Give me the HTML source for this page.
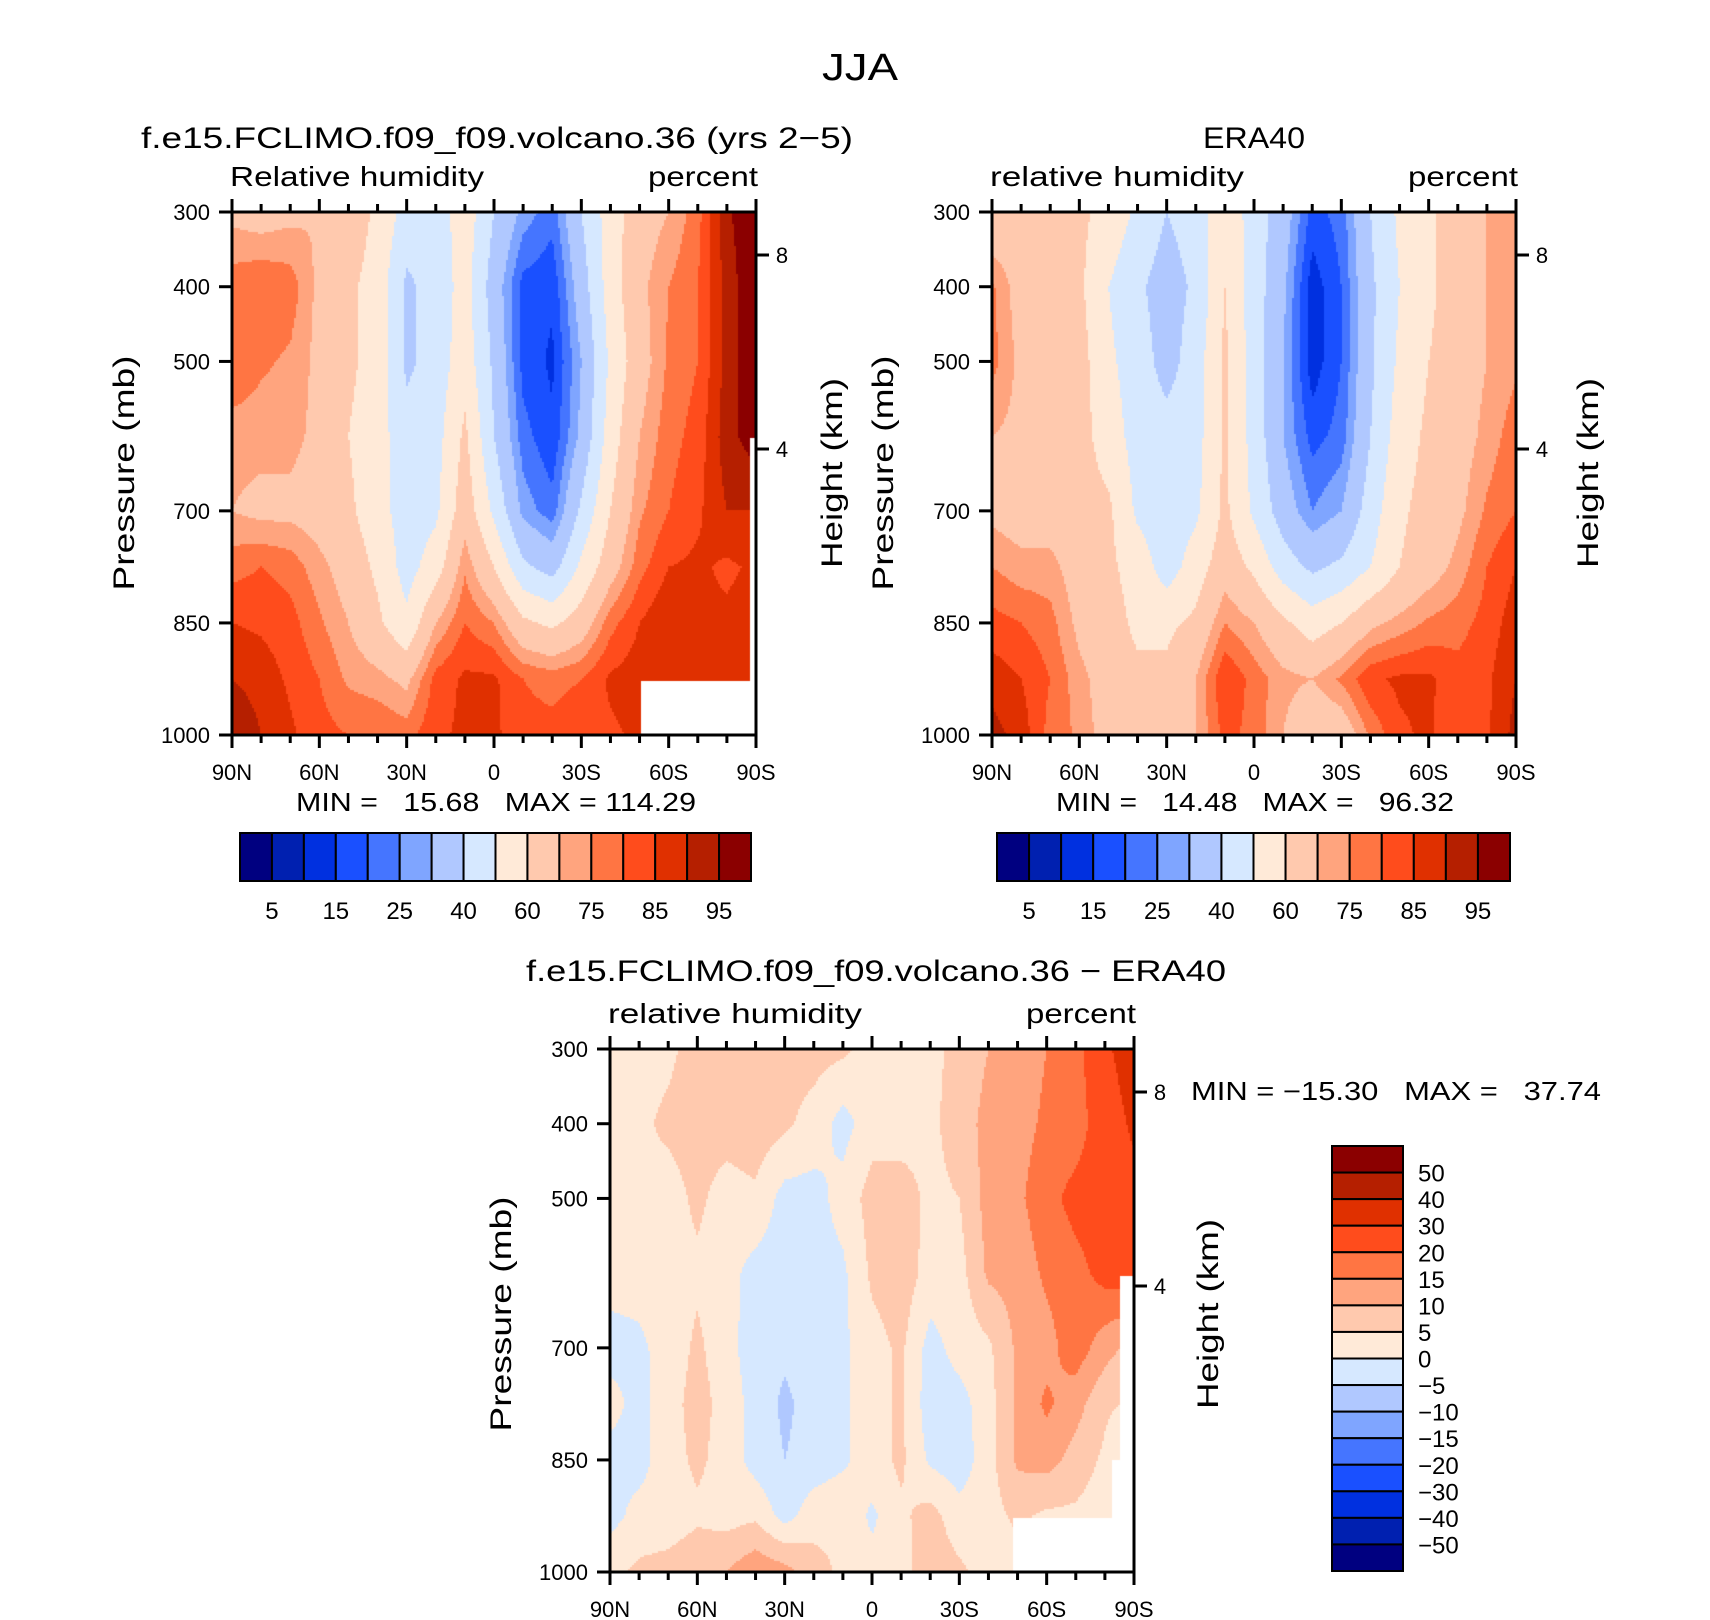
<!DOCTYPE html>
<html><head><meta charset="utf-8"><style>
html,body{margin:0;padding:0;background:#fff;}
#root{position:relative;width:1710px;height:1620px;overflow:hidden;font-family:"Liberation Sans",sans-serif;}
canvas{position:absolute;}
svg{position:absolute;left:0;top:0;}
text{white-space:pre;}
</style></head><body>
<div id="root">
<canvas id="c1"></canvas>
<canvas id="c2"></canvas>
<canvas id="c3"></canvas>
<svg id="ov" width="1710" height="1620"></svg>
</div>
<script>
// ---------- data ----------
const latLabels = ["90N","60N","30N","0","30S","60S","90S"];
const pressureTicks = [300,400,500,700,850,1000];
const gridPressures = [300,400,500,600,700,775,850,925,1000];
const absLevels = [5,10,15,20,25,30,40,50,60,70,75,80,85,90,95];
const absLabels = ["5","15","25","40","60","75","85","95"];
const diffLevels = [-50,-40,-30,-20,-15,-10,-5,0,5,10,15,20,30,40,50];
const diffLabels = ["50","40","30","20","15","10","5","0","\u22125","\u221210","\u221215","\u221220","\u221230","\u221240","\u221250"];
const palette = ["#000080","#0020b0","#0030e0","#1a50ff","#4575ff","#7fa5ff","#b0c8ff","#d6e8ff","#ffead8","#ffc9ae","#ffa47e","#ff7543","#ff4c1c","#e03000","#b51f00","#8b0000"];
// rows = pressure levels, columns = 90N..90S every 10 deg
const modelRH = [
[68,66,68,70,66,58,46,44,56,40,28,22,40,55,66,70,78,94,100],
[78,80,78,68,62,56,38,44,54,35,18,16,35,55,68,75,80,92,100],
[80,76,74,68,62,56,38,44,56,38,18,14,30,52,66,76,80,92,100],
[72,72,72,68,60,54,44,46,62,40,22,16,32,55,70,78,82,93,98],
[70,68,68,66,62,54,45,48,66,48,28,22,42,60,74,80,84,90,90],
[78,80,78,72,66,58,46,55,74,60,42,36,52,66,78,85,86,84,86],
[85,84,82,76,70,62,52,70,80,75,62,58,65,78,85,90,86,86,88],
[90,88,84,80,74,72,68,82,86,86,80,78,80,86,88,88,88,88,88],
[95,90,86,82,80,80,78,84,86,86,82,82,84,84,86,86,86,86,86]];
const eraRH = [
[62,65,65,62,57,48,40,45,58,45,35,18,22,40,52,58,65,70,72],
[76,66,68,62,50,42,35,42,60,45,32,12,20,38,50,58,65,70,72],
[77,68,66,64,52,45,36,45,62,45,30,12,20,38,52,60,65,70,74],
[70,68,66,64,55,46,44,46,62,46,30,18,22,40,55,62,66,72,78],
[68,66,66,64,62,48,44,48,62,48,35,25,30,45,58,64,68,76,80],
[75,72,72,66,62,56,45,55,66,58,45,38,42,50,60,66,72,80,85],
[82,80,77,68,64,58,58,62,75,70,62,55,60,68,72,76,78,82,88],
[88,85,80,72,66,62,62,70,85,78,72,70,76,84,86,86,82,84,90],
[92,88,78,74,66,66,62,70,82,78,70,62,64,76,84,86,80,84,92]];
const diffRH = [
[3,3,4,7,8,7,7,7,6,3,4,4,6,10,12,15,17,28,36],
[2,4,6,7,7,8,6,3,-2,3,3,4,7,12,13,16,17,24,32],
[3,4,3,6,3,4,-2,-2,2,7,7,4,5,12,14,18,22,24,26],
[2,2,3,4,2,-2,-3,-2,-1,6,8,3,3,11,12,16,18,22,23],
[-2,-1,2,6,2,-3,-4,-2,-1,3,6,-2,2,4,11,13,18,12,8],
[2,-2,3,7,3,-2,-6,-3,-1,3,6,-3,-2,3,11,16,12,6,4],
[-2,-2,3,6,3,-2,-5,-3,-1,3,6,-1,-3,3,11,12,8,4,-3],
[-2,2,2,4,3,4,-2,3,4,-1,4,7,2,3,6,4,4,2,-2],
[4,6,7,9,10,14,12,7,4,2,3,8,6,3,3,3,2,-1,-2]];

// ---------- helpers ----------
const NS="http://www.w3.org/2000/svg";
const ov=document.getElementById('ov');
function el(tag,attrs,parent){const e=document.createElementNS(NS,tag);for(const k in attrs)e.setAttribute(k,attrs[k]);(parent||ov).appendChild(e);return e;}
function txt(s,x,y,size,anchor,extra){const t=el('text',Object.assign({x:x,y:y,'font-size':size,'text-anchor':anchor||'start','font-family':'"Liberation Sans",sans-serif',fill:'#000'},extra||{}));t.textContent=s;return t;}
function colorFor(v,levels){let i=0;while(i<levels.length&&v>=levels[i])i++;return palette[i];}
function sample(grid,fx,p){
  const nc=grid[0].length;const cx=fx*(nc-1);const c0=Math.min(nc-2,Math.floor(cx));const tx=cx-c0;
  let r0=0;while(r0<gridPressures.length-2&&p>gridPressures[r0+1])r0++;
  const ty=(p-gridPressures[r0])/(gridPressures[r0+1]-gridPressures[r0]);
  const a=grid[r0][c0]*(1-tx)+grid[r0][c0+1]*tx;const b=grid[r0+1][c0]*(1-tx)+grid[r0+1][c0+1]*tx;
  return a*(1-ty)+b*ty;}
function drawField(id,grid,levels,P,masks){
  const cv=document.getElementById(id);const w=P.x1-P.x0,h=P.y1-P.y0;
  cv.width=w;cv.height=h;cv.style.left=P.x0+'px';cv.style.top=P.y0+'px';
  const ctx=cv.getContext('2d');const s=2;
  for(let y=0;y<h;y+=s){const p=300+700*(y+s/2)/h;
    for(let x=0;x<w;x+=s){ctx.fillStyle=colorFor(sample(grid,(x+s/2)/w,p),levels);ctx.fillRect(x,y,s,s);}}
  ctx.fillStyle='#fff';
  masks.forEach(m=>ctx.fillRect(m[0]-P.x0,m[1]-P.y0,m[2]-m[0],m[3]-m[1]));
}
function axes(P,name,leftTitle,rightTitle,hk){
  const g=el('g',{});
  
  
  const w=P.x1-P.x0,h=P.y1-P.y0;
  el('rect',{x:P.x0,y:P.y0,width:w,height:h,fill:'none',stroke:'#000','stroke-width':3},g);
  for(let d=0;d<=180;d+=10){const x=P.x0+w*d/180;const L=(d%30===0)?13:8;
    el('line',{x1:x,y1:P.y0,x2:x,y2:P.y0-L,stroke:'#000','stroke-width':3},g);
    el('line',{x1:x,y1:P.y1,x2:x,y2:P.y1+L,stroke:'#000','stroke-width':3},g);}
  latLabels.forEach((l,i)=>{const t=txt(l,P.x0+w*i/6,P.y1+45,22,'middle');g.appendChild(t);
    });
  pressureTicks.forEach(p=>{const y=P.y0+h*(p-300)/700;
    el('line',{x1:P.x0,y1:y,x2:P.x0-13,y2:y,stroke:'#000','stroke-width':3},g);
    const t=txt(String(p),P.x0-22,y+8,22,'end');g.appendChild(t);
    });
  hk.forEach(k=>{el('line',{x1:P.x1,y1:k[1],x2:P.x1+13,y2:k[1],stroke:'#000','stroke-width':3},g);
    txt(k[0],P.x1+26,k[1]+8,22,'middle');});
  const a=txt(leftTitle,P.x0-2,P.y0-26,28,'start',{textLength:254,lengthAdjust:'spacingAndGlyphs'});
  const b=txt(rightTitle,P.x1+2,P.y0-26,28,'end',{textLength:110,lengthAdjust:'spacingAndGlyphs'});
}
function rot(s,x,y,name,len){const t=txt(s,x,y,30,'middle',{transform:'rotate(-90 '+x+' '+y+')',textLength:len,lengthAdjust:'spacingAndGlyphs'});return t;}

// ---------- panels ----------
const P1={x0:232,x1:756,y0:212,y1:735};
const P2={x0:992,x1:1516,y0:212,y1:735};
const P3={x0:610,x1:1134,y0:1049,y1:1572};
drawField('c1',modelRH,absLevels,P1,[[641,681,756,735],[750,438,756,735]]);
drawField('c2',eraRH,absLevels,P2,[]);
drawField('c3',diffRH,diffLevels,P3,[[1013,1518,1134,1572],[1120,1276,1134,1572],[1112,1460,1134,1572]]);

axes(P1,'model',"Relative humidity","percent",[["8",255],["4",449]]);
axes(P2,'era40',"relative humidity","percent",[["8",255],["4",449]]);
axes(P3,'difference',"relative humidity","percent",[["8",1092],["4",1286]]);

let t;
t=txt("JJA",860,80,38,'middle',{textLength:76,lengthAdjust:'spacingAndGlyphs'});
t=txt("f.e15.FCLIMO.f09_f09.volcano.36 (yrs 2\u22125)",497,148,30,'middle',{textLength:712,lengthAdjust:'spacingAndGlyphs'});

t=txt("ERA40",1254,148,30,'middle',{textLength:102,lengthAdjust:'spacingAndGlyphs'});

t=txt("f.e15.FCLIMO.f09_f09.volcano.36 \u2212 ERA40",876,981,30,'middle',{textLength:700,lengthAdjust:'spacingAndGlyphs'});


rot("Pressure (mb)",134,473,'y-axis-title',235);
rot("Height (km)",842,473,'right-axis-title',190);
rot("Pressure (mb)",893,473,'y-axis-title',235);
rot("Height (km)",1598,473,'right-axis-title',190);
rot("Pressure (mb)",511,1314,'y-axis-title',235);
rot("Height (km)",1218,1314,'right-axis-title',190);

t=txt("MIN =   15.68   MAX = 114.29",496,811,26,'middle',{textLength:400,lengthAdjust:'spacingAndGlyphs'});
t=txt("MIN =   14.48   MAX =   96.32",1255,811,26,'middle',{textLength:398,lengthAdjust:'spacingAndGlyphs'});
t=txt("MIN = \u221215.30   MAX =   37.74",1191,1100,26,'start',{textLength:410,lengthAdjust:'spacingAndGlyphs'});

// ---------- colorbars ----------
function hbar(x0,x1,y0,y1,name){
  const g=el('g',{});
  
  
  const bw=(x1-x0)/palette.length;
  palette.forEach((c,i)=>{const r=el('rect',{x:x0+i*bw,y:y0,width:bw,height:y1-y0,fill:c,stroke:'#000','stroke-width':2},g);
    });
  absLabels.forEach((l,i)=>{const tt=txt(l,x0+(2*i+1)*bw,y1+38,24,'middle');g.appendChild(tt);
    });
}
hbar(240,751,833,881,'model-colorbar');
hbar(997,1510,833,881,'era40-colorbar');
(function(){const x0=1332,x1=1403,y0=1146,y1=1571;const g=el('g',{});
  
  
  const bh=(y1-y0)/palette.length;
  palette.slice().reverse().forEach((c,i)=>{const r=el('rect',{x:x0,y:y0+i*bh,width:x1-x0,height:bh,fill:c,stroke:'#000','stroke-width':2},g);
    });
  diffLabels.forEach((l,i)=>{const tt=txt(l,1418,y0+(i+1)*bh+9,24,'start');g.appendChild(tt);
    });
})();
</script>
</body></html>
